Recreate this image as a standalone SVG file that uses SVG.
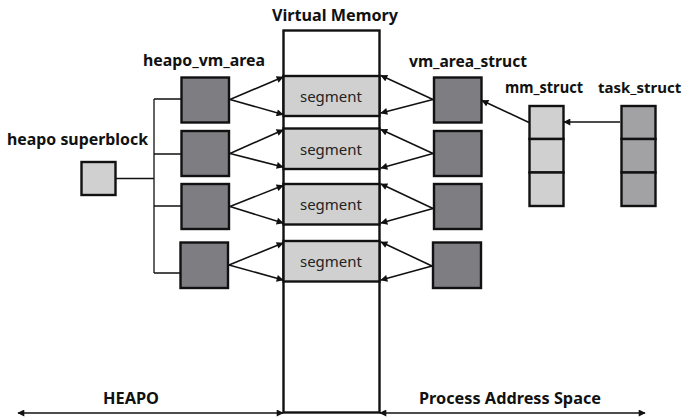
<svg xmlns="http://www.w3.org/2000/svg" width="684" height="417" viewBox="0 0 684 417">
<style>
.lbl{font-family:"Noto Sans","Open Sans","Liberation Sans",sans-serif;font-weight:bold;font-size:16.5px;fill:#111}
.seg-t{font-family:"Noto Sans","Open Sans","Liberation Sans",sans-serif;font-size:15px;fill:#222;text-anchor:middle}
.box{stroke:#111;stroke-width:2.4}
.dark{fill:#7e7e82}
.light{fill:#d0d0d0}
.mid{fill:#a2a2a5}
.ln{stroke:#111;stroke-width:1.3;fill:none}
.ar{stroke:#111;stroke-width:1.6;fill:none;marker-end:url(#ah)}
.ar2{stroke:#111;stroke-width:1.6;fill:none;marker-end:url(#ah);marker-start:url(#ahs)}
</style>
<defs>
<marker id="ah" viewBox="0 0 10 10" refX="9" refY="5" markerWidth="8" markerHeight="7" markerUnits="userSpaceOnUse" orient="auto"><path d="M0,0 L10,5 L0,10 z" fill="#111"/></marker>
<marker id="ahs" viewBox="0 0 10 10" refX="1" refY="5" markerWidth="8" markerHeight="7" markerUnits="userSpaceOnUse" orient="auto"><path d="M10,0 L0,5 L10,10 z" fill="#111"/></marker>
</defs>

<g id="virtual-memory">
<rect class="box" x="283.5" y="30.5" width="96" height="382" fill="#fff"/>
<text class="lbl" x="335" y="21" text-anchor="middle" textLength="126" lengthAdjust="spacingAndGlyphs">Virtual Memory</text>
</g>
<g id="segment1"><rect class="box light" x="283.5" y="76" width="96" height="40"/><text class="seg-t" x="331" y="102">segment</text></g>
<g id="segment2"><rect class="box light" x="283.5" y="128.5" width="96" height="40.5"/><text class="seg-t" x="331" y="155">segment</text></g>
<g id="segment3"><rect class="box light" x="283.5" y="184" width="96" height="40.5"/><text class="seg-t" x="331" y="210">segment</text></g>
<g id="segment4"><rect class="box light" x="283.5" y="241" width="96" height="40.5"/><text class="seg-t" x="331" y="267">segment</text></g>

<g id="heapo-superblock">
<rect class="box light" x="81.5" y="162" width="34" height="33"/>
<text class="lbl" x="7" y="145" textLength="141" lengthAdjust="spacingAndGlyphs">heapo superblock</text>
</g>

<g id="heapo-vm-area">
<text class="lbl" x="143" y="66" textLength="122" lengthAdjust="spacingAndGlyphs">heapo_vm_area</text>
<rect class="box dark" x="181.5" y="77.5" width="47.5" height="45"/>
<rect class="box dark" x="181.5" y="131" width="47.5" height="45"/>
<rect class="box dark" x="181.5" y="184" width="47.5" height="45"/>
<rect class="box dark" x="180.5" y="242.5" width="47.5" height="45.5"/>
</g>

<g id="vm-area-struct">
<text class="lbl" x="409" y="67" textLength="118" lengthAdjust="spacingAndGlyphs">vm_area_struct</text>
<rect class="box dark" x="434" y="77.5" width="47.5" height="45"/>
<rect class="box dark" x="434" y="131" width="47.5" height="45"/>
<rect class="box dark" x="434" y="184" width="47.5" height="45"/>
<rect class="box dark" x="433" y="242.5" width="48" height="45.5"/>
</g>

<g id="mm-struct">
<text class="lbl" x="505" y="93" textLength="78" lengthAdjust="spacingAndGlyphs">mm_struct</text>
<rect class="box light" x="529.5" y="106" width="34" height="33"/>
<rect class="box light" x="529.5" y="139" width="34" height="33.5"/>
<rect class="box light" x="529.5" y="172.5" width="34" height="33.5"/>
</g>

<g id="task-struct">
<text class="lbl" x="598" y="93" style="font-size:15px">task_struct</text>
<rect class="box mid" x="621.5" y="106" width="34" height="33"/>
<rect class="box mid" x="621.5" y="139" width="34" height="33.5"/>
<rect class="box mid" x="621.5" y="172.5" width="34" height="33.5"/>
</g>

<g id="range-labels">
<text class="lbl" x="103" y="404" textLength="56" lengthAdjust="spacingAndGlyphs">HEAPO</text>
<text class="lbl" x="419" y="404" textLength="182" lengthAdjust="spacingAndGlyphs">Process Address Space</text>
</g>

<g id="connectors">
<path class="ln" d="M116,178.5 H154 M154,99 V273 M154,99 H181 M154,154 H181 M154,206 H181 M154,273 H180"/>
<path class="ar" d="M230,99.5 L283,77"/>
<path class="ar" d="M230,99.5 L283,114.5"/>
<path class="ar" d="M230,153.5 L283,130"/>
<path class="ar" d="M230,153.5 L283,167"/>
<path class="ar" d="M230,206.5 L283,185.5"/>
<path class="ar" d="M230,206.5 L283,223"/>
<path class="ar" d="M229,265 L283,243"/>
<path class="ar" d="M229,265 L283,280"/>
<path class="ar" d="M433,99.5 L381,75.5"/>
<path class="ar" d="M433,99.5 L381,113"/>
<path class="ar" d="M433,153.5 L381,129.5"/>
<path class="ar" d="M433,153.5 L381,168"/>
<path class="ar" d="M433,208.5 L381,184"/>
<path class="ar" d="M433,208.5 L381,223"/>
<path class="ar" d="M432,266 L381,242"/>
<path class="ar" d="M432,266 L381,280"/>
<path class="ar" d="M529,122.5 L482,100.5"/>
<path class="ar" d="M620,122 L564,122"/>
<path class="ar2" d="M18,413 L283,413"/>
<path class="ar2" d="M380,413 L645,413"/>
</g>
</svg>
